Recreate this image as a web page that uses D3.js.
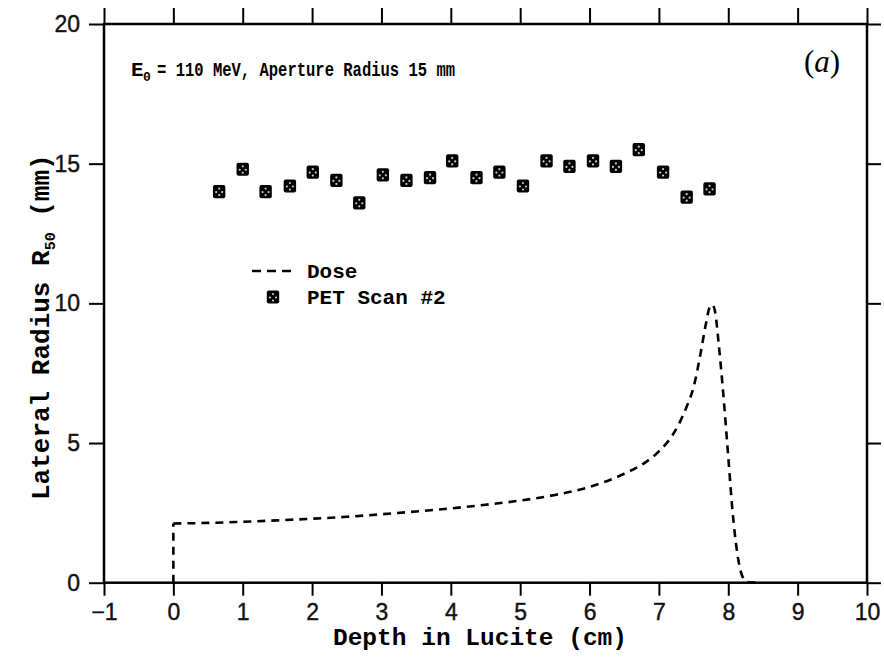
<!DOCTYPE html>
<html>
<head>
<meta charset="utf-8">
<script src="https://cdn.jsdelivr.net/npm/d3@7"></script>
<style>
  body { margin: 0; background: #fff; }
  svg { display: block; }
</style>
</head>
<body>
<div id="chart"></div>
<script>
// data
const petDepth = [0.66, 1.0, 1.33, 1.68, 2.01, 2.35, 2.68, 3.02, 3.36, 3.70, 4.02,
                  4.37, 4.70, 5.04, 5.38, 5.71, 6.05, 6.38, 6.71, 7.06, 7.40, 7.73];
const petRadius = [14.0, 14.8, 14.0, 14.2, 14.7, 14.4, 13.6, 14.6, 14.4, 14.5, 15.1,
                   14.5, 14.7, 14.2, 15.1, 14.9, 15.1, 14.9, 15.5, 14.7, 13.8, 14.1];

// dose curve: entrance edge at 0, then plateau, peak and fall-off
const doseDepth = [0, 0, 0.5, 1, 1.5, 2, 2.5, 3, 3.5, 4, 4.5, 5, 5.5, 6, 6.5, 6.8, 7.0,
                   7.2, 7.4, 7.5, 7.6, 7.68, 7.73, 7.77, 7.81, 7.86, 7.92, 8.0, 8.06,
                   8.13, 8.2, 8.27, 8.4];
const doseRadius = [0, 2.12, 2.14, 2.18, 2.23, 2.29, 2.36, 2.45, 2.55, 2.66, 2.79, 2.94,
                    3.14, 3.43, 3.9, 4.3, 4.7, 5.3, 6.3, 7.0, 8.2, 9.3, 9.85, 9.95, 9.7,
                    8.6, 7.0, 4.5, 2.6, 1.05, 0.25, 0.03, 0];

const xTicks = [-1, 0, 1, 2, 3, 4, 5, 6, 7, 8, 9, 10];
const yTicks = [0, 5, 10, 15, 20];

const width = 884, height = 658;
const plotLeft = 104, plotRight = 867, plotTop = 24, plotBottom = 582.7;

const svg = d3.select("#chart").append("svg")
  .attr("width", width)
  .attr("height", height);

const x = d3.scaleLinear().domain([-1, 10]).range([plotLeft, plotRight]);
const y = d3.scaleLinear().domain([0, 20]).range([plotBottom, plotTop]);

const tickFont = "'Liberation Sans', Arial, sans-serif";
const monoFont = "'Liberation Mono', 'Courier New', monospace";

// axes on all four sides, ticks pointing out
function styleAxis(g) {
  g.select(".domain").remove();
  g.selectAll(".tick line").attr("stroke", "#000").attr("stroke-width", 2);
  g.selectAll(".tick text")
    .attr("font-family", tickFont)
    .attr("font-size", 23)
    .attr("fill", "#111")
    .attr("stroke", "#111")
    .attr("stroke-width", 0.4);
}

svg.append("g")
  .attr("transform", `translate(0,${plotBottom})`)
  .call(d3.axisBottom(x).tickValues(xTicks).tickSize(13).tickPadding(8).tickFormat(d3.format("d")))
  .call(styleAxis);

svg.append("g")
  .attr("transform", `translate(0,${plotTop})`)
  .call(d3.axisTop(x).tickValues(xTicks).tickSize(16).tickFormat(""))
  .call(styleAxis);

svg.append("g")
  .attr("transform", `translate(${plotLeft},0)`)
  .call(d3.axisLeft(y).tickValues(yTicks).tickSize(15).tickPadding(9).tickFormat(d3.format("d")))
  .call(styleAxis);

svg.append("g")
  .attr("transform", `translate(${plotRight},0)`)
  .call(d3.axisRight(y).tickValues(yTicks).tickSize(14).tickFormat(""))
  .call(styleAxis);

// frame
svg.append("rect")
  .attr("x", plotLeft).attr("y", plotTop)
  .attr("width", plotRight - plotLeft).attr("height", plotBottom - plotTop)
  .attr("fill", "none")
  .attr("stroke", "#000")
  .attr("stroke-width", 2.5);

// dose curve: straight entrance edge, smooth remainder
const edgeLine = d3.line().x(i => x(doseDepth[i])).y(i => y(doseRadius[i]));
const doseLine = d3.line()
  .x(i => x(doseDepth[i]))
  .y(i => y(doseRadius[i]))
  .curve(d3.curveMonotoneX);

const doseG = svg.append("g")
  .attr("fill", "none")
  .attr("stroke", "#000")
  .attr("stroke-width", 2.6)
  .attr("stroke-dasharray", "8,6");
doseG.append("path").attr("d", edgeLine([0, 1]));
doseG.append("path").attr("d", doseLine(d3.range(1, doseDepth.length)));

// PET markers
function marker(g) {
  g.append("rect")
    .attr("x", -6.2).attr("y", -6.6)
    .attr("width", 12.4).attr("height", 13.2)
    .attr("rx", 2)
    .attr("fill", "#000");
  [[0, -3], [-3, 0.5], [3, 0.5], [0, 3.5]].forEach(([dx, dy]) => {
    g.append("circle")
      .attr("cx", dx).attr("cy", dy).attr("r", 1.1)
      .attr("fill", "#ccc");
  });
}

svg.append("g")
  .selectAll("g")
  .data(d3.range(petDepth.length))
  .join("g")
  .attr("transform", i => `translate(${x(petDepth[i])},${y(petRadius[i])})`)
  .each(function() { marker(d3.select(this)); });

// legend
svg.append("line")
  .attr("x1", 252).attr("x2", 295)
  .attr("y1", 271).attr("y2", 271)
  .attr("stroke", "#000")
  .attr("stroke-width", 2.4)
  .attr("stroke-dasharray", "9,6");

svg.append("text")
  .attr("x", 307).attr("y", 278)
  .attr("font-family", monoFont)
  .attr("font-weight", "bold")
  .attr("font-size", 21)
  .text("Dose");

marker(svg.append("g").attr("transform", "translate(273,297)"));

svg.append("text")
  .attr("x", 307).attr("y", 304)
  .attr("font-family", monoFont)
  .attr("font-weight", "bold")
  .attr("font-size", 21)
  .text("PET Scan #2");

// annotation
const annG = svg.append("g")
  .attr("font-family", monoFont)
  .attr("font-weight", "bold");
annG.append("text").attr("x", 131).attr("y", 76).attr("font-size", 21).text("E");
annG.append("text").attr("x", 143).attr("y", 81).attr("font-size", 13).text("0");
annG.append("text")
  .attr("x", 157).attr("y", 76)
  .attr("font-size", 21)
  .attr("textLength", 298)
  .attr("lengthAdjust", "spacingAndGlyphs")
  .text("= 110 MeV, Aperture Radius 15 mm");

const lab = svg.append("text")
  .attr("x", 804).attr("y", 72)
  .attr("font-family", "'Liberation Serif', 'Times New Roman', serif")
  .attr("font-size", 31);
lab.append("tspan").text("(");
lab.append("tspan").attr("font-style", "italic").text("a");
lab.append("tspan").text(")");

// axis titles
svg.append("text")
  .attr("x", 480).attr("y", 645)
  .attr("text-anchor", "middle")
  .attr("font-family", monoFont)
  .attr("font-weight", "bold")
  .attr("font-size", 24.5)
  .text("Depth in Lucite (cm)");

const yl = svg.append("text")
  .attr("transform", "translate(49,500) rotate(-90)")
  .attr("font-family", monoFont)
  .attr("font-weight", "bold")
  .attr("font-size", 26);
yl.append("tspan").text("Lateral Radius R");
yl.append("tspan").attr("font-size", 15).attr("dy", 6).text("50");
yl.append("tspan").attr("dy", -6).text("  (mm)");
</script>
</body>
</html>
